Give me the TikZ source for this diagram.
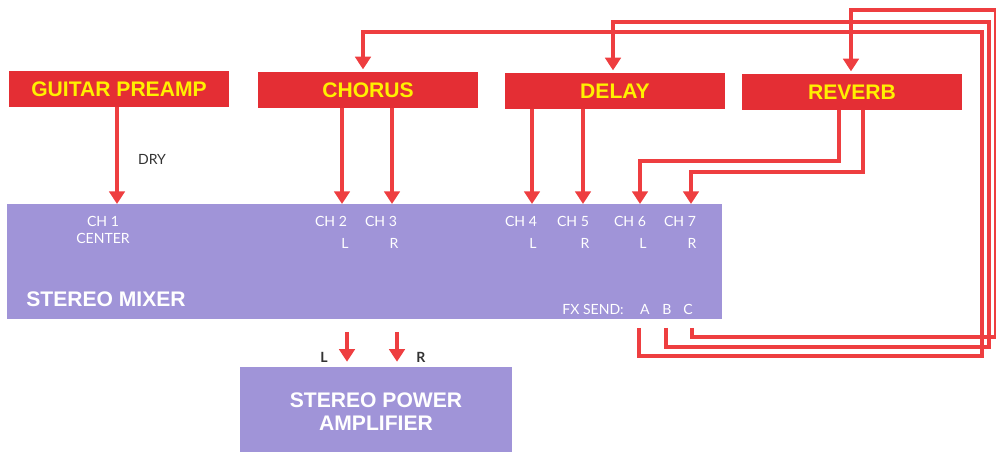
\documentclass[tikz,border=0pt]{standalone}
\usepackage{fontspec}
\setmainfont{Lato}
\newfontfamily\heavyfont{Liberation Sans}
\usetikzlibrary{arrows.meta,positioning}
\definecolor{boxred}{RGB}{228,46,52}
\definecolor{wirered}{RGB}{238,62,64}
\definecolor{lilac}{RGB}{160,148,216}
\definecolor{fxyellow}{RGB}{255,240,0}
\tikzset{
  fxbox/.style={fill=boxred,minimum width=5.48cm,minimum height=0.875cm,inner sep=0pt,
    text=fxyellow,font=\heavyfont\bfseries\fontsize{15}{16}\selectfont},
  mixbox/.style={fill=lilac,inner sep=0pt},
  wire/.style={draw=wirered,line width=3.4pt},
  feed/.style={wire,-{Triangle[width=11pt,length=9pt]}},
  chlbl/.style={text=white,font=\fontsize{10}{11}\selectfont,inner sep=0pt},
  biglbl/.style={text=white,font=\heavyfont\bfseries\fontsize{15}{16.5}\selectfont,inner sep=0pt,align=center},
  darklbl/.style={text=black!80,font=\fontsize{10}{11}\selectfont,inner sep=0pt}
}

\begin{document}
\begin{tikzpicture}[x=0.025cm,y=-0.025cm]
  \useasboundingbox (0,0) rectangle (996,452);

  % effect units
  \node[fxbox] (pre) at (119,89) {GUITAR PREAMP};
  \node[fxbox] (chorus) at (368,90) {CHORUS};
  \node[fxbox] (delay) at (615,91) {DELAY};
  \node[fxbox] (reverb) at (852,92) {REVERB};

  % mixer and amp
  \node[mixbox,minimum width=17.875cm,minimum height=2.875cm] (mixer) at (364.5,261.5) {};
  \node[mixbox,minimum width=6.8cm,minimum height=2.25cm,biglbl] (amp) at (376,412) {STEREO POWER\\AMPLIFIER};
  \node[biglbl] (mixname) at (106,299) {STEREO MIXER};

  % mixer inputs
  \coordinate (in1) at (117,204); \coordinate (in2) at (342,204); \coordinate (in3) at (392,204);
  \coordinate (in4) at (532,204); \coordinate (in5) at (583,204);
  \coordinate (in6) at (640,204); \coordinate (in7) at (691,204);

  \node[chlbl,align=center] (ch1) at (103,230) {CH 1\\[1pt]CENTER};
  \node[chlbl] (ch2) at (331,221) {CH 2}; \node[chlbl] (l2) at (345,243) {L};
  \node[chlbl] (ch3) at (381,221) {CH 3}; \node[chlbl] (r3) at (394,243) {R};
  \node[chlbl] (ch4) at (521,221) {CH 4}; \node[chlbl] (l4) at (533,243) {L};
  \node[chlbl] (ch5) at (573,221) {CH 5}; \node[chlbl] (r5) at (585,243) {R};
  \node[chlbl] (ch6) at (630,221) {CH 6}; \node[chlbl] (l6) at (643,243) {L};
  \node[chlbl] (ch7) at (680,221) {CH 7}; \node[chlbl] (r7) at (692,243) {R};
  \node[chlbl] (fxsend) at (593,309) {FX SEND:};
  \node[chlbl] (sendA) at (645,309) {A};
  \node[chlbl] (sendB) at (667,309) {B};
  \node[chlbl] (sendC) at (688,309) {C};

  % dry and effect returns
  \draw[feed] (pre.south -| in1) -- (in1);
  \node[darklbl] (dry) at (152,159) {DRY};
  \draw[feed] (chorus.south -| in2) -- (in2);
  \draw[feed] (chorus.south -| in3) -- (in3);
  \draw[feed] (delay.south -| in4) -- (in4);
  \draw[feed] (delay.south -| in5) -- (in5);
  \draw[feed] (reverb.south -| 839,0) -- (839,161) -| (in6);
  \draw[feed] (reverb.south -| 863,0) -- (863,172) -| (in7);

  % fx sends back round to the units
  \coordinate (sA) at (639,328); \coordinate (sB) at (666,328); \coordinate (sC) at (692,328);
  \draw[feed,shorten >=2pt] (sA) -- (639,356) -- (982,356) -- (982,32) -- (363,32) -- (chorus.north -| 363,0);
  \draw[feed,shorten >=2pt] (sB) -- (666,347) -- (989,347) -- (989,22) -- (613,22) -- (delay.north -| 613,0);
  \draw[feed,shorten >=2pt] (sC) -- (692,337) -- (996,337) -- (996,10) -- (851,10) -- (reverb.north -| 851,0);

  % to the amp
  \coordinate (outL) at (347,332); \coordinate (outR) at (397,332);
  \draw[feed,shorten >=3.5pt] (outL) -- (outL |- amp.north);
  \draw[feed,shorten >=3.5pt] (outR) -- (outR |- amp.north);
  \node[darklbl,font=\bfseries\fontsize{10}{11}\selectfont] (lblL) at (324,357) {L};
  \node[darklbl,font=\bfseries\fontsize{10}{11}\selectfont] (lblR) at (421,357) {R};
\end{tikzpicture}
\end{document}
